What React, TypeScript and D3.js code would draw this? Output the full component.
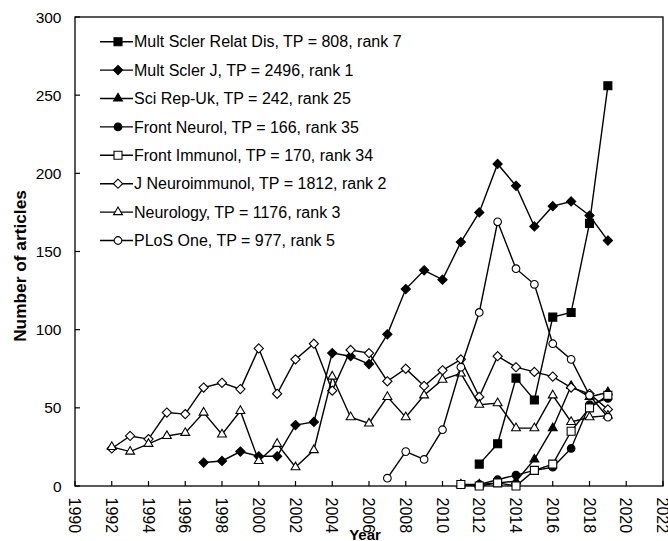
import React from "react";
import * as d3 from "d3";

const yTicks = [0, 50, 100, 150, 200, 250, 300];
const xTicks = [1990, 1992, 1994, 1996, 1998, 2000, 2002, 2004, 2006, 2008, 2010, 2012, 2014, 2016, 2018, 2020, 2022];

const multSclerRelatDisYears = [2012, 2013, 2014, 2015, 2016, 2017, 2018, 2019];
const multSclerRelatDisValues = [14, 27, 69, 55, 108, 111, 168, 256];

const multSclerJYears = [1997, 1998, 1999, 2000, 2001, 2002, 2003, 2004, 2005, 2006, 2007, 2008, 2009, 2010, 2011, 2012, 2013, 2014, 2015, 2016, 2017, 2018, 2019];
const multSclerJValues = [15, 16, 22, 19, 19, 39, 41, 85, 83, 78, 97, 126, 138, 132, 156, 175, 206, 192, 166, 179, 182, 173, 157];

const sciRepYears = [2011, 2012, 2013, 2014, 2015, 2016, 2017, 2018, 2019];
const sciRepValues = [1, 1, 2, 3, 17, 37, 64, 57, 60];

const frontNeurolYears = [2012, 2013, 2014, 2015, 2016, 2017, 2018, 2019];
const frontNeurolValues = [1, 4, 7, 10, 12, 24, 52, 56];

const frontImmunolYears = [2011, 2012, 2013, 2014, 2015, 2016, 2017, 2018, 2019];
const frontImmunolValues = [1, 0, 2, 0, 10, 14, 35, 50, 58];

const jNeuroimmunolYears = [1992, 1993, 1994, 1995, 1996, 1997, 1998, 1999, 2000, 2001, 2002, 2003, 2004, 2005, 2006, 2007, 2008, 2009, 2010, 2011, 2012, 2013, 2014, 2015, 2016, 2017, 2018, 2019];
const jNeuroimmunolValues = [24, 32, 30, 47, 46, 63, 66, 62, 88, 59, 81, 91, 61, 87, 85, 67, 75, 64, 74, 81, 57, 83, 76, 73, 70, 63, 59, 49];

const neurologyYears = [1992, 1993, 1994, 1995, 1996, 1997, 1998, 1999, 2000, 2001, 2002, 2003, 2004, 2005, 2006, 2007, 2008, 2009, 2010, 2011, 2012, 2013, 2014, 2015, 2016, 2017, 2018, 2019];
const neurologyValues = [25, 22, 27, 32, 34, 47, 33, 48, 16, 27, 12, 23, 70, 44, 40, 57, 44, 58, 68, 72, 52, 53, 37, 37, 58, 41, 44, 45];

const plosOneYears = [2007, 2008, 2009, 2010, 2011, 2012, 2013, 2014, 2015, 2016, 2017, 2018, 2019];
const plosOneValues = [5, 22, 17, 36, 76, 111, 169, 139, 129, 91, 81, 58, 44];

const seriesNames = [
  "Mult Scler Relat Dis, TP = 808, rank 7",
  "Mult Scler J, TP = 2496, rank 1",
  "Sci Rep-Uk, TP = 242, rank 25",
  "Front Neurol, TP = 166, rank 35",
  "Front Immunol, TP = 170, rank 34",
  "J Neuroimmunol, TP = 1812, rank 2",
  "Neurology, TP = 1176, rank 3",
  "PLoS One, TP = 977, rank 5",
];

type Shape = "square" | "diamond" | "triangle" | "circle";
const series: { name: string; years: number[]; values: number[]; shape: Shape; filled: boolean }[] = [
  { name: seriesNames[0], years: multSclerRelatDisYears, values: multSclerRelatDisValues, shape: "square", filled: true },
  { name: seriesNames[1], years: multSclerJYears, values: multSclerJValues, shape: "diamond", filled: true },
  { name: seriesNames[2], years: sciRepYears, values: sciRepValues, shape: "triangle", filled: true },
  { name: seriesNames[3], years: frontNeurolYears, values: frontNeurolValues, shape: "circle", filled: true },
  { name: seriesNames[4], years: frontImmunolYears, values: frontImmunolValues, shape: "square", filled: false },
  { name: seriesNames[5], years: jNeuroimmunolYears, values: jNeuroimmunolValues, shape: "diamond", filled: false },
  { name: seriesNames[6], years: neurologyYears, values: neurologyValues, shape: "triangle", filled: false },
  { name: seriesNames[7], years: plosOneYears, values: plosOneValues, shape: "circle", filled: false },
];

const W = 668;
const H = 541;
const m = { left: 75, right: 663, top: 17, bottom: 486 };
const FONT = "'Liberation Sans', Arial, sans-serif";

function markerPath(shape: Shape): string {
  if (shape === "diamond") return "M0,-4.6L4.6,0L0,4.6L-4.6,0Z";
  if (shape === "square") return d3.symbol().type(d3.symbolSquare).size(64)() as string;
  if (shape === "triangle") return d3.symbol().type(d3.symbolTriangle).size(34)() as string;
  return d3.symbol().type(d3.symbolCircle).size(46)() as string;
}

export default function App() {
  const x = d3.scaleLinear().domain([1990, 2022]).range([m.left, m.right]);
  const y = d3.scaleLinear().domain([0, 300]).range([m.bottom, m.top]);
  const line = d3
    .line<[number, number]>()
    .x((d) => x(d[0]))
    .y((d) => y(d[1]));

  const legendX = 100;
  const legendY0 = 41.7;
  const legendDy = 28.4;

  return (
    <svg width={W} height={H} style={{ position: "absolute", left: 0, top: 0, background: "#fff" }} fontFamily={FONT}>
      <rect x={0} y={0} width={W} height={H} fill="#fff" />
      {/* frame */}
      <rect x={m.left} y={m.top} width={m.right - m.left} height={m.bottom - m.top} fill="none" stroke="#000" strokeWidth={1.3} />
      {/* y ticks */}
      {yTicks.map((t) => (
        <g key={"y" + t}>
          <line x1={m.left} x2={m.left + 5} y1={y(t)} y2={y(t)} stroke="#000" strokeWidth={1.2} />
          <text x={61.5} y={y(t)} dy="0.36em" textAnchor="end" fontSize={15.5}>
            {t}
          </text>
        </g>
      ))}
      {/* x ticks */}
      {xTicks.map((t) => (
        <g key={"x" + t}>
          <line x1={x(t)} x2={x(t)} y1={m.bottom} y2={m.bottom - 5} stroke="#000" strokeWidth={1.2} />
          <text transform={`translate(${x(t)},${m.bottom + 11.5}) rotate(90)`} dy="0.36em" textAnchor="start" fontSize={16}>
            {t}
          </text>
        </g>
      ))}
      <text transform={`translate(26,266) rotate(-90)`} textAnchor="middle" fontSize={17.3} fontWeight="bold">
        Number of articles
      </text>
      <text x={365} y={540} textAnchor="middle" fontSize={15} fontWeight="bold">
        Year
      </text>
      {/* series */}
      {series.map((s, i) => {
        const pts = s.years.map((yr, j) => [yr, s.values[j]] as [number, number]);
        const p = markerPath(s.shape);
        return (
          <g key={"s" + i}>
            <path d={line(pts) as string} fill="none" stroke="#000" strokeWidth={1.4} />
            {pts.map((d, j) => (
              <path
                key={j}
                d={p}
                transform={`translate(${x(d[0])},${y(d[1])})`}
                fill={s.filled ? "#000" : "#fff"}
                stroke="#000"
                strokeWidth={1.1}
              />
            ))}
          </g>
        );
      })}
      {/* legend */}
      {series.map((s, i) => {
        const ly = legendY0 + i * legendDy;
        return (
          <g key={"l" + i}>
            <line x1={legendX} x2={legendX + 33} y1={ly} y2={ly} stroke="#000" strokeWidth={1.4} />
            <path d={markerPath(s.shape)} transform={`translate(${legendX + 18},${ly})`} fill={s.filled ? "#000" : "#fff"} stroke="#000" strokeWidth={1.1} />
            <text x={legendX + 34} y={ly} dy="0.36em" fontSize={16}>
              {s.name}
            </text>
          </g>
        );
      })}
    </svg>
  );
}
